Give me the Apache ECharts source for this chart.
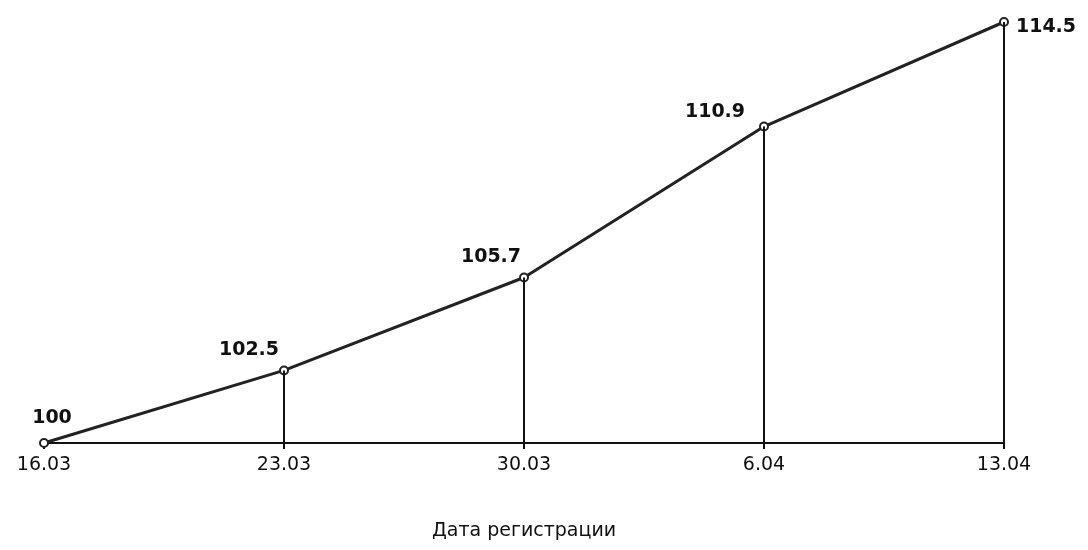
<!DOCTYPE html>
<html>
<head>
<meta charset="utf-8">
<script src="https://cdn.jsdelivr.net/npm/echarts@6/dist/echarts.min.js"></script>
<style>html,body{margin:0;padding:0;background:#fff}#c{width:1088px;height:550px}</style>
</head>
<body>
<div id="c"></div>
<script>
const categories = ['16.03', '23.03', '30.03', '6.04', '13.04'];
const values = [100, 102.5, 105.7, 110.9, 114.5];
const axisName = 'Дата регистрации';
const baseValue = 100;

const labelOffsets = [[8, -25], [-35, -20], [-33, -20], [-49, -14], [42, 5]];

const chart = echarts.init(document.getElementById('c'));
chart.setOption({
  backgroundColor: '#fff',
  animation: false,
  grid: { left: 44, right: 84, top: 22, bottom: 107 },
  xAxis: {
    type: 'category',
    data: categories,
    boundaryGap: false,
    name: axisName,
    nameLocation: 'middle',
    nameGap: 79,
    nameTextStyle: { fontFamily: 'DejaVu Sans', fontSize: 19, color: '#111' },
    axisLine: { lineStyle: { color: '#111', width: 2 } },
    axisTick: { show: true, length: 6, lineStyle: { color: '#111', width: 2 } },
    axisLabel: { fontFamily: 'DejaVu Sans', fontSize: 19, color: '#111', margin: 13 },
    splitLine: { show: false }
  },
  yAxis: {
    type: 'value',
    min: baseValue,
    max: 114.5,
    show: false
  },
  series: [{
    type: 'line',
    data: values.map((v, i) => ({
      value: v,
      label: { offset: labelOffsets[i] }
    })),
    lineStyle: { color: '#222', width: 3 },
    symbol: 'emptyCircle',
    symbolSize: 8,
    itemStyle: { color: '#222', borderWidth: 1.5, borderColor: '#222' },
    label: {
      show: true,
      position: 'inside',
      fontFamily: 'DejaVu Sans',
      fontWeight: 'bold',
      fontSize: 19,
      color: '#111',
      formatter: p => String(values[p.dataIndex])
    },
    markLine: {
      silent: true,
      symbol: 'none',
      label: { show: false },
      lineStyle: { color: '#111', width: 2, type: 'solid' },
      data: values.slice(1).map((v, j) => [
        { coord: [j + 1, baseValue] },
        { coord: [j + 1, v] }
      ])
    },
    z: 3
  }]
});
</script>
</body>
</html>
